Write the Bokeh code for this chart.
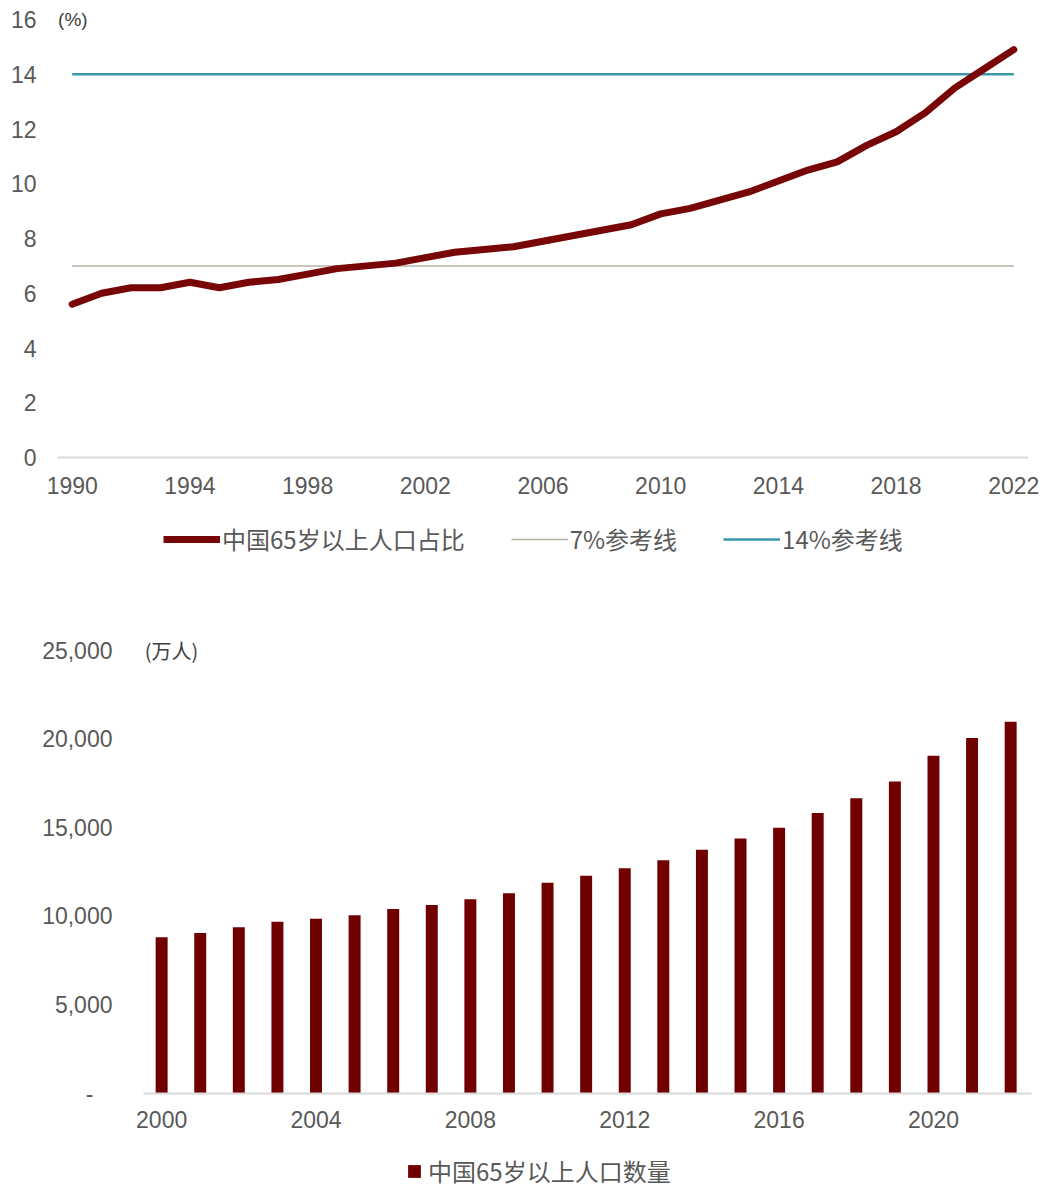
from bokeh.plotting import figure
from bokeh.models import Legend, LegendItem, Label, FixedTicker, NumeralTickFormatter, Range1d
from bokeh.embed import file_html
from bokeh.resources import INLINE

# ---- data ----
years_pct = list(range(1990, 2023))
pct_65 = [5.6, 6.0, 6.2, 6.2, 6.4, 6.2, 6.4, 6.5, 6.7, 6.9, 7.0, 7.1, 7.3, 7.5, 7.6, 7.7,
          7.9, 8.1, 8.3, 8.5, 8.9, 9.1, 9.4, 9.7, 10.1, 10.5, 10.8, 11.4, 11.9, 12.6,
          13.5, 14.2, 14.9]
ref_7 = 7
ref_14 = 14
pct_yticks = [0, 2, 4, 6, 8, 10, 12, 14, 16]
pct_xticks = [1990, 1994, 1998, 2002, 2006, 2010, 2014, 2018, 2022]
label_pct_series = "中国65岁以上人口占比"
label_ref7 = "7%参考线"
label_ref14 = "14%参考线"

years_pop = list(range(2000, 2023))
pop_65 = [8821, 9062, 9377, 9692, 9857, 10055, 10419, 10636, 10956, 11307, 11894,
          12288, 12714, 13161, 13755, 14386, 15003, 15831, 16658, 17603, 19064,
          20056, 20978]
pop_yticks = [0, 5000, 10000, 15000, 20000, 25000]
pop_xticks = [2000, 2004, 2008, 2012, 2016, 2020]
label_pop_series = "中国65岁以上人口数量"

# ---- styles ----
TICK_FONT = "Liberation Sans"
CJK_FONT = "Noto Sans CJK SC"
TXT = "#595959"
AXIS = "#d9d9d9"
DARK_RED = "#780606"
BAR_RED = "#700000"
REF7 = "#b9b2a3"
REF14 = "#3a98ad"
W = 1047


def style(p):
    p.outline_line_color = None
    p.xgrid.grid_line_color = None
    p.ygrid.grid_line_color = None
    p.background_fill_color = "white"
    p.border_fill_color = "white"
    for ax in (p.xaxis[0], p.yaxis[0]):
        ax.major_tick_line_color = None
        ax.minor_tick_line_color = None
        ax.major_tick_out = 0
        ax.major_tick_in = 0
        ax.minor_tick_out = 0
        ax.minor_tick_in = 0
        ax.major_label_text_font = TICK_FONT
        ax.major_label_text_font_size = "23px"
        ax.major_label_text_color = TXT
    p.yaxis[0].axis_line_color = None
    p.xaxis[0].axis_line_color = AXIS
    p.xaxis[0].axis_line_width = 2


def legend_fig(height):
    # legend-only strip; its data range is chosen so the series marks stay out of view
    f = figure(width=W, height=height, x_range=Range1d(0, W), y_range=Range1d(0, height),
               output_backend="svg", toolbar_location=None,
               x_axis_type=None, y_axis_type=None, min_border=0)
    f.outline_line_color = None
    f.xgrid.grid_line_color = None
    f.ygrid.grid_line_color = None
    f.background_fill_color = "white"
    f.border_fill_color = "white"
    return f


# ---- top chart (frame: x 57..1028, y=16 at 19, y=0 at 457) ----
p1 = figure(width=W, height=510,
            x_range=Range1d(1989.5, 2022.5), y_range=Range1d(0, 16 + 14 / 27.375),
            output_backend="svg", toolbar_location=None,
            min_border_left=57, min_border_right=19, min_border_top=5,
            min_border_bottom=53)
style(p1)
p1.yaxis[0].ticker = FixedTicker(ticks=pct_yticks)
p1.yaxis[0].major_label_standoff = 21
p1.xaxis[0].ticker = FixedTicker(ticks=pct_xticks)
p1.xaxis[0].major_label_standoff = 19

p1.line([years_pct[0], years_pct[-1]], [ref_7, ref_7], line_color=REF7, line_width=1.5)
p1.line([years_pct[0], years_pct[-1]], [ref_14, ref_14], line_color=REF14, line_width=2.5)
p1.line(years_pct, pct_65, line_color=DARK_RED, line_width=7, line_join="round", line_cap="round")

p1.add_layout(Label(x=1989.52, y=16, text="(%)", text_font=TICK_FONT, text_font_size="19px",
                    text_color="#404040", text_baseline="middle", text_align="left"))

# ---- top legend ----
l1 = legend_fig(90)
g_s = l1.line(years_pct, pct_65, line_color=DARK_RED, line_width=7)
g_7 = l1.line([years_pct[0], years_pct[-1]], [ref_7, ref_7], line_color=REF7, line_width=1.5)
g_14 = l1.line([years_pct[0], years_pct[-1]], [ref_14, ref_14], line_color=REF14, line_width=2.5)
leg1 = Legend(items=[LegendItem(label=label_pct_series, renderers=[g_s]),
                     LegendItem(label=label_ref7, renderers=[g_7]),
                     LegendItem(label=label_ref14, renderers=[g_14])],
              orientation="horizontal", location=(163, 44),
              glyph_width=57, glyph_height=24, label_standoff=2, spacing=46,
              label_text_font=CJK_FONT, label_text_font_size="24px", label_text_color=TXT,
              label_height=24,
              border_line_color=None, background_fill_alpha=0, margin=0, padding=0)
l1.add_layout(leg1)

# ---- bottom chart (frame: x 143..1031, y=25000 at 650, y=0 at 1093) ----
p2 = figure(width=W, height=543,
            x_range=Range1d(1999.53, 2022.54), y_range=Range1d(0, 25000 + 12 * 25000 / 443),
            output_backend="svg", toolbar_location=None,
            min_border_left=143, min_border_right=16, min_border_top=38,
            min_border_bottom=50)
style(p2)
p2.yaxis[0].ticker = FixedTicker(ticks=pop_yticks)
p2.yaxis[0].formatter = NumeralTickFormatter(format="0,0")
p2.yaxis[0].major_label_overrides = {0: "-\u00a0\u00a0\u00a0"}
p2.yaxis[0].major_label_standoff = 31
p2.xaxis[0].ticker = FixedTicker(ticks=pop_xticks)
p2.xaxis[0].major_label_standoff = 17

p2.vbar(x=years_pop, top=pop_65, width=0.31, fill_color=BAR_RED, line_color=None)

p2.add_layout(Label(x=1999.56, y=25000, text="(万人)", text_font=CJK_FONT, text_font_size="20px",
                    text_color="#404040", text_baseline="middle", text_align="left"))

# ---- bottom legend ----
l2 = legend_fig(48)
g_b = l2.vbar(x=years_pop, top=pop_65, width=0.31, fill_color=BAR_RED, line_color=None)
leg2 = Legend(items=[LegendItem(label=label_pop_series, renderers=[g_b])],
              orientation="horizontal", location=(406, 3),
              glyph_width=16, glyph_height=16, label_standoff=6,
              label_text_font=CJK_FONT, label_text_font_size="24px", label_text_color=TXT,
              label_height=24,
              border_line_color=None, background_fill_alpha=0, margin=0, padding=0)
l2.add_layout(leg2)

open("out.html", "w").write(file_html([p1, l1, p2, l2], INLINE))
